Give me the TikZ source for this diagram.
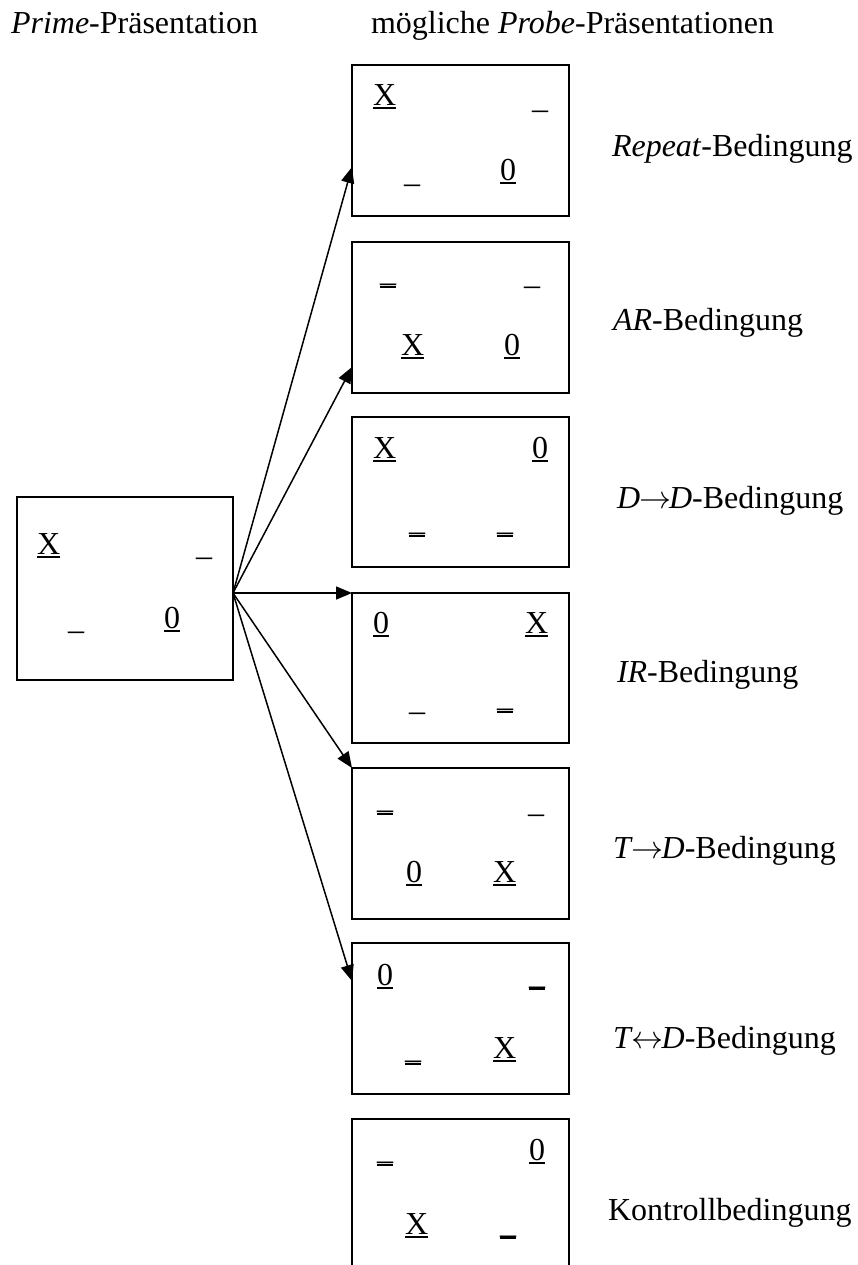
\RequirePackage{fix-cm}
\documentclass[tikz,border=0pt]{standalone}
\usepackage{fontspec}
\setmainfont{Liberation Serif}
\usetikzlibrary{arrows.meta}
\newcommand\ulx[1]{\setbox0\hbox{#1}\rlap{\rule[-3.3pt]{\wd0}{1.6pt}}\box0}
\newcommand\dsh{\_}
\newcommand\dbl{\setbox0\hbox{\_}\rlap{\rule[-6.6pt]{\wd0}{1.7pt}}\box0}
\newcommand\thk{\setbox0\hbox{\_}\rlap{\rule[-5.6pt]{\wd0}{2pt}}\box0}
\newcommand\rarr{\kern-1pt$\rightarrow$\kern-2pt}
\newcommand\lrarr{\kern-1pt$\leftrightarrow$\kern-2pt}
\begin{document}
\begin{tikzpicture}[x=1pt,y=-1pt,
  every node/.style={font=\fontsize{32}{38}\selectfont, inner sep=0pt, outer sep=0pt},
  box/.style={draw, line width=2pt, minimum width=217pt, minimum height=151pt, anchor=north west},
  lbl/.style={anchor=base west},
  arr/.style={line width=1.5pt, -{Triangle[length=16pt,width=13pt]}}]
\useasboundingbox (0,0) rectangle (858,1265);
\clip (0,0) rectangle (858,1265);

% headers
\node[lbl] (h1) at (11,34) {\textit{Prime}-Präsentation};
\node[lbl] (h2) at (371,34) {mögliche \textit{Probe}-Präsentationen};

% prime box
\node[box, minimum width=216pt, minimum height=183pt] (p) at (17,497) {};
\node[lbl] (p1) at (37,554.5) {\ulx{X}};
\node[lbl] (p2) at (196,555.5) {\dsh};
\node[lbl] (p3) at (68,629.5) {\dsh};
\node[lbl] (p4) at (164,628.5) {\ulx{0}};

% probe boxes
\node[box] (b1) at (352,65) {};
\node[box] (b2) at (352,242) {};
\node[box, minimum height=150pt] (b3) at (352,417) {};
\node[box, minimum height=150pt] (b4) at (352,593) {};
\node[box] (b5) at (352,768) {};
\node[box] (b6) at (352,943) {};
\node[box, minimum height=200pt] (b7) at (352,1119) {};

% box 1
\node[lbl] at (373,105.5) {\ulx{X}};
\node[lbl] at (532,108.5) {\dsh};
\node[lbl] at (404,182.5) {\dsh};
\node[lbl] at (500,180.5) {\ulx{0}};
% box 2
\node[lbl] at (380,281.5) {\dbl};
\node[lbl] at (524,284.5) {\dsh};
\node[lbl] at (401,355.5) {\ulx{X}};
\node[lbl] at (504,355.5) {\ulx{0}};
% box 3
\node[lbl] at (373,458.5) {\ulx{X}};
\node[lbl] at (532,458.5) {\ulx{0}};
\node[lbl] at (409,530.5) {\dbl};
\node[lbl] at (497,530.5) {\dbl};
% box 4
\node[lbl] at (373,633.5) {\ulx{0}};
\node[lbl] at (525,633.5) {\ulx{X}};
\node[lbl] at (409,710.5) {\dsh};
\node[lbl] at (497,706.5) {\dbl};
% box 5
\node[lbl] at (377,808.5) {\dbl};
\node[lbl] at (528,812.5) {\dsh};
\node[lbl] at (406,882.5) {\ulx{0}};
\node[lbl] at (493,882.5) {\ulx{X}};
% box 6
\node[lbl] at (377,985.5) {\ulx{0}};
\node[lbl] at (529,984.1) {\thk};
\node[lbl] at (405,1058.5) {\dbl};
\node[lbl] at (493,1058.5) {\ulx{X}};
% box 7
\node[lbl] at (377,1159.5) {\dbl};
\node[lbl] at (529,1160.5) {\ulx{0}};
\node[lbl] at (405,1234.5) {\ulx{X}};
\node[lbl] at (500,1233.1) {\thk};

% condition labels
\node[lbl] (r1) at (612,157) {\textit{Repeat}-Bedingung};
\node[lbl] (r2) at (613,330) {\textit{AR}-Bedingung};
\node[lbl] (r3) at (617,508) {\textit{D}\rarr\textit{D}-Bedingung};
\node[lbl] (r4) at (617,682) {\textit{IR}-Bedingung};
\node[lbl] (r5) at (613,858) {\textit{T}\rarr\textit{D}-Bedingung};
\node[lbl] (r6) at (613,1048) {\textit{T}\lrarr\textit{D}-Bedingung};
\node[lbl] (r7) at (608,1220) {Kontrollbedingung};

% connectors
\coordinate (src) at (233,593);
\coordinate (t1) at (352,167);
\coordinate (t2) at (352,367);
\coordinate (t4) at (352,593);
\coordinate (t5) at (352,768);
\coordinate (t6) at (352,981);
\draw[arr] (src) -- (t1);
\draw[arr] (src) -- (t2);
\draw[arr] (src) -- (t4);
\draw[arr] (src) -- (t5);
\draw[arr] (src) -- (t6);
\end{tikzpicture}
\end{document}
